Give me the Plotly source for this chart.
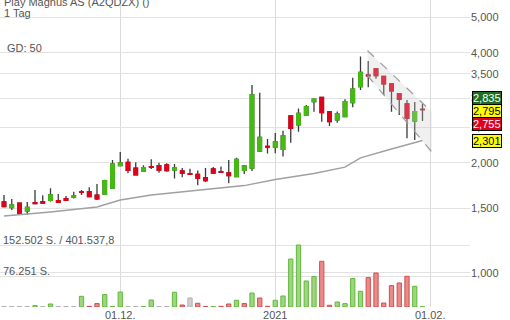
import math
import plotly.graph_objects as go

# ---------------- data ----------------
opens = [1562, 1507, 1549, 1476, 1555, 1565, 1578, 1575, 1595, 1609,
         1663, 1666, 1629, 1642, 1705, 1963, 2005, 1931, 1898, 1950,
         1963, 1971, 1910, 1898, 1866, 1859, 1820, 1922, 1889, 1874,
         1831, 1906, 1934, 2153, 2217, 2208, 2174, 2684, 2537, 2701,
         2938, 3017, 2759, 2618, 2676, 2920, 3233, 3471, 3614, 3443,
         3288, 3084, 2896, 2601, 2800]
highs = [1632, 1592, 1552, 1562, 1684, 1629, 1702, 1642, 1622, 1666,
         1684, 1713, 1749, 1795, 2034, 2139, 2051, 2005, 1967, 2043,
         2000, 1992, 1984, 1934, 1926, 1904, 1934, 1947, 1953, 2034,
         2064, 1971, 3264, 3110, 2322, 2412, 2447, 2692, 2814, 2878,
         2989, 3026, 2771, 2761, 2983, 3418, 3906, 3796, 3634, 3454,
         3305, 3094, 2970, 2933, 2896]
lows = [1513, 1485, 1452, 1439, 1542, 1549, 1565, 1551, 1573, 1595,
        1632, 1612, 1581, 1637, 1698, 1959, 1871, 1850, 1889, 1922,
        1878, 1889, 1811, 1824, 1852, 1734, 1771, 1866, 1880, 1757,
        1827, 1863, 1898, 2140, 2119, 2122, 2080, 2269, 2432, 2692,
        2759, 2590, 2521, 2574, 2668, 2837, 3163, 3218, 3394, 3065,
        2759, 2701, 2333, 2308, 2601]
closes = [1516, 1532, 1454, 1510, 1545, 1551, 1632, 1559, 1578, 1622,
          1658, 1615, 1592, 1786, 1984, 1996, 1906, 1854, 1938, 1943,
          1910, 1902, 1934, 1871, 1859, 1813, 1786, 1874, 1883, 1843,
          2041, 1959, 3065, 2344, 2208, 2279, 2367, 2484, 2727, 2847,
          2983, 2742, 2590, 2719, 2938, 3177, 3531, 3458, 3465, 3288,
          3143, 2983, 2651, 2759, 2795]
volumes = [1000, 1000, 1000, 1000, 3400, 1000, 7400, 1000, 1000, 1000,
           26300, 1700, 8400, 30500, 1200, 36900, 1000, 1000, 1000, 17200,
           1000, 1000, 36200, 4900, 22100, 9100, 1000, 1000, 1500, 7400,
           16500, 8400, 34400, 22100, 1700, 16500, 27100, 118000, 152502, 64000,
           74800, 112400, 4200, 12300, 8400, 69900, 38600, 72300, 83600, 9800,
           52600, 59000, 75500, 50900, 800]
vol_dir = ["f", "f", "f", "f", "u", "f", "u", "f", "f", "f",
           "u", "d", "d", "u", "u", "u", "f", "f", "u", "u",
           "f", "f", "u", "d", "f", "d", "d", "u", "d", "d",
           "u", "d", "u", "d", "d", "u", "u", "u", "u", "u",
           "u", "d", "d", "u", "u", "u", "u", "d", "d", "d",
           "d", "d", "d", "u", "u"]

ma_idx = [0, 6, 12, 15, 19, 25, 31, 35, 40, 44, 46, 50, 54]
ma_val = [1430, 1467, 1513, 1581, 1632, 1684, 1731, 1798, 1868, 1945, 2062, 2181, 2301]

chan_x = [46.9, 55.2]
chan_upper = [4056, 2754]
chan_lower = [3465, 2140]

tick_idx = [15, 35, 55]
tick_text = ["01.12.", "2021", "01.02."]
price_ticks = [1000, 1500, 2000, 2500, 3000, 3500, 4000, 5000]
price_tick_text = ["1,000", "1,500", "2,000", "2,500", "3,000", "3,500", "4,000", "5,000"]
vol_ticks = [76251, 152502]

quote_bid, quote_last, quote_ask, ma_last = 2755, 2795, 2835, 2301

# ---------------- styling ----------------
FONT = "Arial, 'Liberation Sans', sans-serif"
GREEN = "#45bb12"
RED = "#e1001a"
WICK = "#3a3a3a"
TXT = "#555555"
GRID = "#e2e2e2"
vol_fill = {"u": "#9bd77c", "d": "#ec8a8a", "f": "#d0d0d0"}
vol_line = {"u": "#62b73c", "d": "#cf4d4d", "f": "#b0b0b0"}

x = list(range(len(opens)))
body_hi = [max(o, c) for o, c in zip(opens, closes)]
body_lo = [min(o, c) for o, c in zip(opens, closes)]

fig = go.Figure()

# channel fill + dashed borders
fig.add_trace(go.Scatter(
    x=[chan_x[0], chan_x[1], chan_x[1], chan_x[0], chan_x[0]],
    y=[chan_upper[0], chan_upper[1], chan_lower[1], chan_lower[0], chan_upper[0]],
    fill="toself", fillcolor="rgba(200,200,200,0.28)", mode="lines",
    line=dict(width=0), hoverinfo="skip"))
for ys in (chan_upper, chan_lower):
    fig.add_trace(go.Scatter(x=chan_x, y=ys, mode="lines",
                             line=dict(color="#9c9c9c", width=1.2, dash="dash"),
                             hoverinfo="skip"))

# moving average
fig.add_trace(go.Scatter(x=ma_idx, y=ma_val, mode="lines",
                         line=dict(color="#a0a0a0", width=1.5), hoverinfo="skip"))

# volume
fig.add_trace(go.Bar(
    x=x, y=volumes, yaxis="y2", width=0.55,
    marker=dict(color=[vol_fill[d] for d in vol_dir],
                line=dict(color=[vol_line[d] for d in vol_dir], width=1))))

# wicks (dark) then coloured bodies on top
fig.add_trace(go.Candlestick(
    x=x, open=opens, high=highs, low=lows, close=closes, whiskerwidth=0,
    increasing=dict(line=dict(color=WICK, width=1.3), fillcolor=WICK),
    decreasing=dict(line=dict(color=WICK, width=1.3), fillcolor=WICK)))
fig.add_trace(go.Candlestick(
    x=x, open=opens, high=body_hi, low=body_lo, close=closes, whiskerwidth=0,
    increasing=dict(line=dict(color=GREEN, width=1.3), fillcolor=GREEN),
    decreasing=dict(line=dict(color=RED, width=1.3), fillcolor=RED)))

PLOT_H = 320 - 13
vol_frac = (PLOT_H - 245) / PLOT_H

fig.update_layout(
    width=510, height=320, margin=dict(l=0, r=40, t=0, b=13),
    paper_bgcolor="white", plot_bgcolor="white", showlegend=False,
    boxgap=0.35,
    font=dict(family=FONT, size=11, color=TXT),
    xaxis=dict(range=[-0.516, 60.13], tickvals=tick_idx, ticktext=tick_text,
               showgrid=True, gridcolor="#dadada", gridwidth=1, zeroline=False,
               rangeslider=dict(visible=False), ticks="", showline=False,
               tickfont=dict(size=11, color=TXT)),
    yaxis=dict(type="log", range=[2.9061, 3.7463], side="right",
               tickvals=price_ticks, ticktext=price_tick_text,
               showgrid=True, gridcolor=GRID, gridwidth=1.2, zeroline=False,
               ticks="", showline=False, tickfont=dict(size=11, color=TXT)),
    yaxis2=dict(overlaying="y", range=[0, vol_ticks[1] / vol_frac],
                tickvals=vol_ticks, showticklabels=False, showgrid=True,
                gridcolor=GRID, gridwidth=1.2, zeroline=False, side="left"),
)

def paper_y(py):
    return 1 - py / PLOT_H

texts = [
    ("Play Magnus AS (A2QDZX) ()", 2, 2),
    ("1 Tag", 2, 13),
    ("GD: 50", 5, 48.5),
    ("152.502 S. / 401.537,8", 1, 239.5),
    ("76.251 S.", 1, 271),
]
for t, px, py in texts:
    fig.add_annotation(text=t, xref="paper", yref="paper", x=px / 470, y=paper_y(py),
                       xanchor="left", yanchor="middle", showarrow=False,
                       font=dict(family=FONT, size=11, color=TXT))

boxes = [
    (quote_ask, quote_last, 12, "#1f6e1f", "white"),
    (quote_last, quote_last, -1, "#ffff00", "black"),
    (quote_bid, quote_last, -14, "#e0001b", "white"),
    (ma_last, ma_last, -1, "#ffff00", "black"),
]
for val, anchor_val, shift, bg, fg in boxes:
    fig.add_annotation(text=f"{val:,}", xref="paper", yref="y", x=1,
                       y=math.log10(anchor_val), yshift=shift, xshift=2,
                       xanchor="left", yanchor="middle", showarrow=False,
                       bgcolor=bg, bordercolor="#000000", borderwidth=1, borderpad=0,
                       font=dict(family=FONT, size=11, color=fg))

fig.write_html("out.html")
